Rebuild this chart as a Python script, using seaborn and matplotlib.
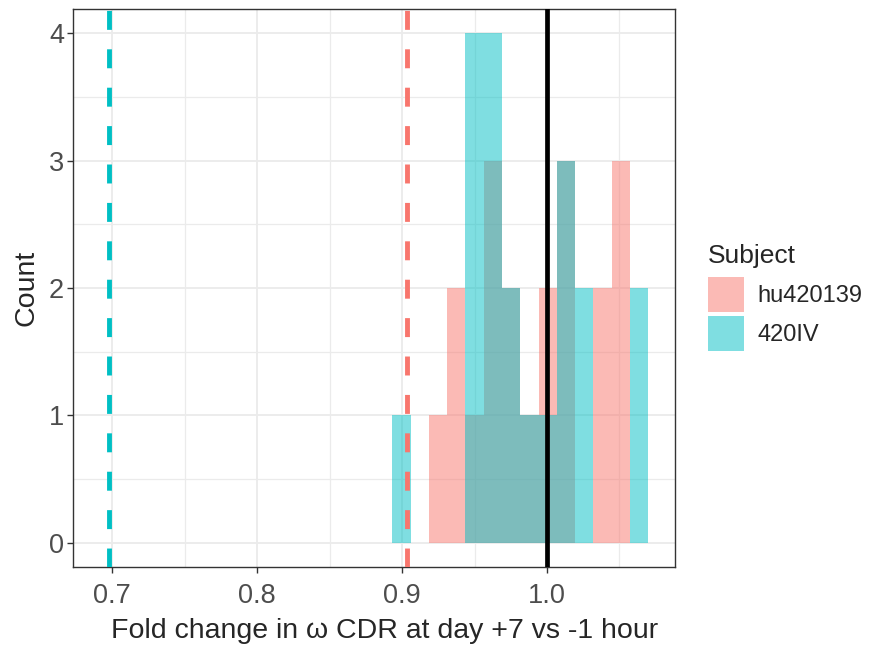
import numpy as np
import pandas as pd
import matplotlib
matplotlib.use("Agg")
import matplotlib.pyplot as plt
from matplotlib.patches import Patch
import seaborn as sns

# ---- data ----
subjects = ["hu420139", "420IV"]
bin_start = 0.8933
bin_width = 0.01262
bin_centers = [0.8996, 0.9122, 0.9249, 0.9375, 0.9501, 0.9627, 0.9754,
               0.9880, 1.0006, 1.0132, 1.0259, 1.0385, 1.0511, 1.0637]
counts_hu420139 = [0, 0, 1, 2, 1, 3, 2, 1, 2, 3, 0, 2, 3, 0]
counts_420IV = [1, 0, 0, 0, 4, 4, 2, 1, 1, 3, 2, 0, 0, 2]
mean_lines = {"hu420139": 0.9032, "420IV": 0.6977}
ref_line = 1.0
x_ticks = [0.7, 0.8, 0.9, 1.0]
y_ticks = [0, 1, 2, 3, 4]
colors = {"hu420139": "#F8766D", "420IV": "#00BFC4"}

df = pd.DataFrame({
    "x": bin_centers * 2,
    "count": counts_hu420139 + counts_420IV,
    "Subject": [subjects[0]] * len(bin_centers) + [subjects[1]] * len(bin_centers),
})
edges = [float(e) for e in bin_start + bin_width * np.arange(len(bin_centers) + 1)]

sns.set_style("white")
plt.rcParams["font.family"] = ["Liberation Sans", "DejaVu Sans"]

fig = plt.figure(figsize=(8.7, 6.47), dpi=100)
ax = fig.add_axes([0.0836, 0.1236, 0.6923, 0.8625])

for s in subjects:
    sns.histplot(data=df[df["Subject"] == s], x="x", weights="count", bins=edges,
                 color=colors[s], alpha=0.5, linewidth=0, edgecolor="none", ax=ax)

for s in subjects:
    ax.axvline(mean_lines[s], color=colors[s], lw=3.5, ls=(0, (3.9, 4.0)), zorder=4)
ax.axvline(ref_line, color="black", lw=3.4, zorder=5)

ax.set_xlim(0.6727, 1.0884)
ax.set_ylim(-0.19, 4.19)
ax.set_xticks(x_ticks)
ax.set_xticklabels([f"{t:.1f}" for t in x_ticks])
ax.set_yticks(y_ticks)
ax.set_xticks([0.75, 0.85, 0.95, 1.05], minor=True)
ax.set_yticks([0.5, 1.5, 2.5, 3.5], minor=True)
ax.grid(True, which="major", color="#EBEBEB", lw=1.3)
ax.grid(True, which="minor", color="#EBEBEB", lw=0.9)
ax.set_axisbelow(True)
for sp in ax.spines.values():
    sp.set_color("#333333")
    sp.set_linewidth(1.0)
ax.tick_params(axis="both", which="major", length=4.3, width=1.0, color="#333333",
               labelsize=19.5, labelcolor="#4D4D4D", pad=2, bottom=True, left=True)
ax.tick_params(axis="x", which="major", pad=7)
ax.tick_params(axis="both", which="minor", length=0)
ax.set_xlabel("Fold change in ω CDR at day +7 vs -1 hour", fontsize=20.5, labelpad=4)
ax.xaxis.set_label_coords(0.5177, -0.0905, transform=ax.transAxes)
ax.xaxis.label.set_va("top")
ax.set_ylabel("Count", fontsize=20.5, labelpad=6.5)

handles = [Patch(facecolor=colors[s], alpha=0.5, edgecolor="none") for s in subjects]
leg = fig.legend(handles, subjects, title="Subject", loc="upper left",
                 bbox_to_anchor=(708 / 870, 1 - 244 / 647), frameon=False, fontsize=17,
                 title_fontsize=19, handlelength=1.51, handleheight=1.9,
                 handletextpad=0.6, labelspacing=0.17, borderaxespad=0, borderpad=0)
leg._legend_box.align = "left"
leg._legend_box.sep = 6.4

fig.savefig("out.png", dpi=100)
